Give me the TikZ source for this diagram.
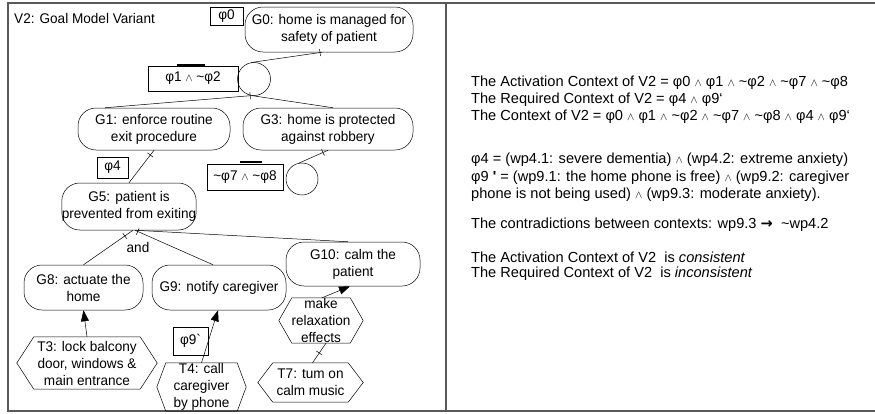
\documentclass[tikz,border=0pt]{standalone}
\usepackage{fontspec}
\setmainfont{Liberation Sans}
\newfontfamily\diagfont[FakeStretch=0.97]{Liberation Sans}
\newfontfamily\symfont{DejaVu Sans}
\usetikzlibrary{arrows.meta,decorations.markings,calc}

% small conjunction sign and negation tilde
\newcommand\wedg{{\fontsize{11pt}{11pt}\selectfont$\wedge$}}
\newcommand\nt{\textasciitilde}

% hexagonal outline around a task node: #1 node name, #2 tip inset
\newcommand\hexframe[2]{%
  \draw[link] (#1.west) -- ([xshift=#2]#1.north west) -- ([xshift=-#2]#1.north east)
    -- (#1.east) -- ([xshift=-#2]#1.south east) -- ([xshift=#2]#1.south west) -- cycle;}

\tikzset{
  diagtext/.style={font=\diagfont\fontsize{14pt}{17pt}\selectfont},
  goal/.style={draw, line width=0.5pt, rounded corners=18pt, align=center, inner sep=0pt, diagtext},
  task/.style={align=center, inner sep=0pt, diagtext},
  ctxbox/.style={draw, line width=0.5pt, inner sep=0pt, diagtext},
  orcircle/.style={draw, line width=0.5pt, circle, inner sep=0pt, minimum size=33pt},
  link/.style={draw, line width=0.5pt},
  contribution/.style={link, -{Triangle[length=11pt,width=8pt]}},
  tickat/.style={postaction={decorate, decoration={markings,
      mark=at position #1 with {\draw[line width=0.5pt] (0pt,-3.5pt) -- (0pt,3.5pt);}}}},
  negbar/.style={line width=2.5pt},
  frame/.style={draw=black!65, line width=1.2pt},
  panel/.style={font=\fontsize{14.6pt}{17pt}\selectfont, anchor=west, inner sep=0pt},
}

\begin{document}
\begin{tikzpicture}[x=1pt,y=-1pt]
\useasboundingbox (0,0) rectangle (875,413);

% outer frame and divider
\draw[frame] (875,3) -- (8,3) -- (8,411) -- (875,411);
\draw[frame] (446,3) -- (446,411);

\node[diagtext, anchor=west, inner sep=0pt] (title) at (14,18) {V2: Goal Model Variant};

% goals
\node[goal, minimum width=168pt, minimum height=45pt] (G0) at (329,29.5) {G0: home is managed for\\safety of patient};
\node[goal, minimum width=152pt, minimum height=42pt] (G1) at (154,129) {G1: enforce routine\\exit procedure};
\node[goal, minimum width=170pt, minimum height=42pt] (G3) at (328,129) {G3: home is protected\\against robbery};
\node[goal, minimum width=132pt, minimum height=47pt] (G5) at (129,206.5) {G5: patient is\\prevented from exiting};
\node[goal, minimum width=119pt, minimum height=45pt] (G8) at (83.5,287.5) {G8: actuate the\\home};
\node[goal, minimum width=134pt, minimum height=45pt] (G9) at (219,287.5) {G9: notify caregiver};
\node[goal, minimum width=134pt, minimum height=44pt] (G10) at (353,264) {G10: calm the\\patient};

% decomposition circles
\node[orcircle] (c1) at (254,79) {};
\node[orcircle, minimum size=32pt] (c2) at (302,179) {};

% tasks
\node[task, minimum width=140pt, minimum height=52pt] (T3) at (87,363) {T3: lock balcony\\door, windows \&\\main entrance};
\node[task, minimum width=89pt, minimum height=48pt] (T4) at (201.5,387) {T4: call\\caregiver\\by phone};
\node[task, minimum width=84pt, minimum height=45pt] (relax) at (321,320.5) {make\\relaxation\\effects};
\node[task, minimum width=105pt, minimum height=39pt] (T7) at (310.5,382.5) {T7: tum on\\calm music};
\hexframe{T3}{17pt}
\hexframe{T4}{9pt}
\hexframe{relax}{13pt}
\hexframe{T7}{15pt}

% context annotations
\node[ctxbox, minimum width=33pt, minimum height=18pt] (p0) at (226.5,16) {φ0};
\node[ctxbox, minimum width=90pt, minimum height=25pt] (p12) at (193,78.5) {φ1 \wedg{} \nt φ2};
\node[ctxbox, minimum width=31pt, minimum height=21pt] (p4) at (112.5,167.5) {φ4};
\node[ctxbox, minimum width=76pt, minimum height=26pt] (p78) at (245,177) {\nt φ7 \wedg{} \nt φ8};
\node[ctxbox, minimum width=35pt, minimum height=28pt] (p9) at (190.5,341) {φ9`};
\draw[negbar] ([xshift=-16pt,yshift=1pt]p12.north) -- ([xshift=12pt,yshift=1pt]p12.north);
\draw[negbar] ([xshift=-5pt,yshift=2pt]p78.north) -- ([xshift=17pt,yshift=2pt]p78.north);

% refinement links
\draw[link, tickat=2pt] ([xshift=-7pt]G0.south) -- (c1.100);
\draw[link, tickat=1.5pt] (c1.262) -- ([xshift=-49pt]G1.north);
\draw[link] (c1.262) -- ([xshift=5pt]G3.north);
\draw[link, tickat=6pt] (G1.south) -- (G5.north);
\draw[link, tickat=5.5pt] (G3.south) -- (c2.100);
\draw[link, tickat=10pt] ([xshift=4pt]G5.south) -- (G8.north);
\draw[link, tickat=3pt] ([xshift=6pt]G5.south) -- ([xshift=-6pt]G9.north);
\draw[link] ([xshift=6pt]G5.south) -- ([xshift=-5pt]G10.north);
\node[diagtext, inner sep=0pt] (andlbl) at (138,247) {and};

% means-end links
\draw[contribution] (T3.north) -- (G8.south);
\draw[contribution] (T4.north) -- ([xshift=-1pt]G9.south);
\draw[contribution] ([xshift=1pt]relax.north) -- ([xshift=-3pt]G10.south);
\draw[link, tickat=0.5] ([xshift=2pt]T7.north) -- ([xshift=5pt]relax.south);

% context analysis
\node[panel] (r1) at (471,83) {The Activation Context of V2 = φ0 \wedg{} φ1 \wedg{} \nt φ2 \wedg{} \nt φ7 \wedg{} \nt φ8};
\node[panel] (r2) at (471,100) {The Required Context of V2 = φ4 \wedg{} φ9`};
\node[panel] (r3) at (471,117) {The Context of V2 = φ0 \wedg{} φ1 \wedg{} \nt φ2 \wedg{} \nt φ7 \wedg{} \nt φ8 \wedg{} φ4 \wedg{} φ9`};
\node[panel] (r4) at (471,160) {φ4 = (wp4.1: severe dementia) \wedg{} (wp4.2: extreme anxiety)};
\node[panel] (r5) at (471,178) {φ9 \textbf{\textquotesingle} = (wp9.1: the home phone is free) \wedg{} (wp9.2: caregiver};
\node[panel] (r6) at (471,195) {phone is not being used) \wedg{} (wp9.3: moderate anxiety).};
\node[panel] (r7) at (471,225) {The contradictions between contexts: wp9.3 {\symfont\bfseries →}\ \ \nt wp4.2};
\node[panel] (r8) at (471,257) {The Activation Context of V2\ \ is \textit{consistent}};
\node[panel] (r9) at (471,274) {The Required Context of V2\ \ is \textit{inconsistent}};
\end{tikzpicture}
\end{document}
